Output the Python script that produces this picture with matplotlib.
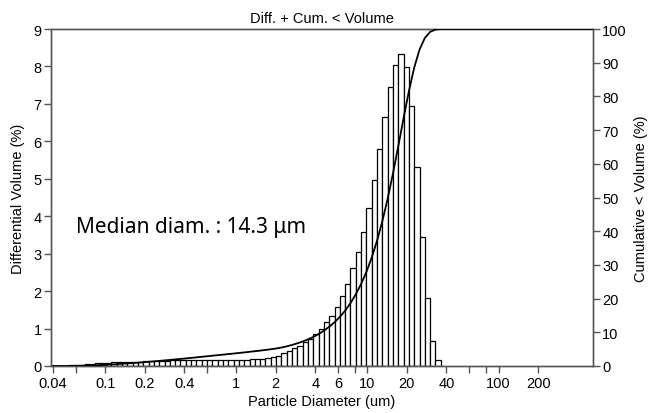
import numpy as np
import matplotlib
matplotlib.use("Agg")
import matplotlib.pyplot as plt
from matplotlib.ticker import FixedLocator, NullFormatter, FixedFormatter

plt.rcParams['font.family'] = ['Liberation Sans', 'DejaVu Sans']

# LS 13 320 style geometric channels: 116 channels from 0.04 to 2000 um
N_CHANNELS = 116
channel_edges_um = 0.04 * (2000.0 / 0.04) ** (np.arange(N_CHANNELS + 1) / N_CHANNELS)

# Differential volume (%) per channel (channels 0..72)
diff_low = [0.0, 0.0, 0.01, 0.02, 0.03, 0.04, 0.05, 0.06, 0.07, 0.08,
            0.09, 0.10, 0.10, 0.11, 0.11, 0.12, 0.12,
            0.13, 0.13, 0.14, 0.14, 0.14, 0.15, 0.15, 0.15,
            0.16, 0.16, 0.16, 0.16, 0.16, 0.16, 0.16, 0.16, 0.16, 0.17,
            0.17, 0.17, 0.18, 0.18, 0.19]
diff_mid = [0.21, 0.23, 0.28, 0.35, 0.41, 0.48, 0.54, 0.63, 0.72, 0.85,
            0.99, 1.17, 1.34, 1.57]
diff_peak = [1.86, 2.19, 2.62, 3.05, 3.59, 4.21, 4.98, 5.80, 6.64, 7.46,
             8.05, 8.33, 7.98, 6.95, 5.32, 3.45, 1.81, 0.68, 0.16]
measured = diff_low + diff_mid + diff_peak
diff_volume = np.array(measured + [0.0] * (N_CHANNELS - len(measured)))

cum_volume = np.concatenate([[0.0], np.cumsum(diff_volume)])
cum_volume = cum_volume / cum_volume[-1] * 100.0

median_text = "Median diam. : 14.3 \u03bcm"
title = "Diff. + Cum. < Volume"
x_label = "Particle Diameter (um)"
y_label_left = "Differential Volume (%)"
y_label_right = "Cumulative < Volume (%)"
x_major = [0.04, 0.1, 0.2, 0.4, 1, 2, 4, 6, 10, 20, 40, 100, 200]
x_major_labels = ["0.04", "0.1", "0.2", "0.4", "1", "2", "4", "6", "10", "20", "40", "100", "200"]
x_minor = [0.06, 0.6, 8, 60, 80]

fig = plt.figure(figsize=(6.49, 4.14), dpi=100)
ax = fig.add_axes([51.5 / 649, 47 / 414, 541 / 649, 337 / 414])

left = channel_edges_um[:-1]
widths = np.diff(channel_edges_um)
mask = diff_volume > 0
ax.bar(left[mask], diff_volume[mask], width=widths[mask], align='edge',
       facecolor='white', edgecolor='black', linewidth=0.9, zorder=2)

ax.set_xscale('log')
ax.set_xlim(0.039, 520)
ax.set_ylim(0, 9)
ax.set_yticks(range(0, 10))

ax.xaxis.set_major_locator(FixedLocator(x_major))
ax.xaxis.set_major_formatter(FixedFormatter(x_major_labels))
ax.xaxis.set_minor_locator(FixedLocator(x_minor))
ax.xaxis.set_minor_formatter(NullFormatter())

ax2 = ax.twinx()
ax2.plot(channel_edges_um, cum_volume, color='black', linewidth=1.3, zorder=3)
ax2.set_ylim(0, 100)
ax2.set_yticks(range(0, 101, 10))
ax2.set_xlim(0.039, 520)

spine_color = '#555555'
for a in (ax, ax2):
    for s in a.spines.values():
        s.set_color(spine_color)
        s.set_linewidth(1.0)
    a.tick_params(axis='both', which='both', direction='out', color=spine_color,
                  labelsize=10.5, length=5, width=1.0, pad=2, labelcolor='black')
ax.tick_params(axis='x', which='minor', length=5)

ax.set_xlabel(x_label, fontsize=10.5, labelpad=3)
ax.set_ylabel(y_label_left, fontsize=10.5, labelpad=6)
ax2.set_ylabel(y_label_right, fontsize=10.5, labelpad=5)
ax.set_title(title, fontsize=10.5, pad=5)

ax.text(0.046, 0.415, median_text, transform=ax.transAxes, fontsize=15,
        family=['Noto Sans', 'DejaVu Sans'], va='center', ha='left')

fig.savefig('out.png', dpi=100)
